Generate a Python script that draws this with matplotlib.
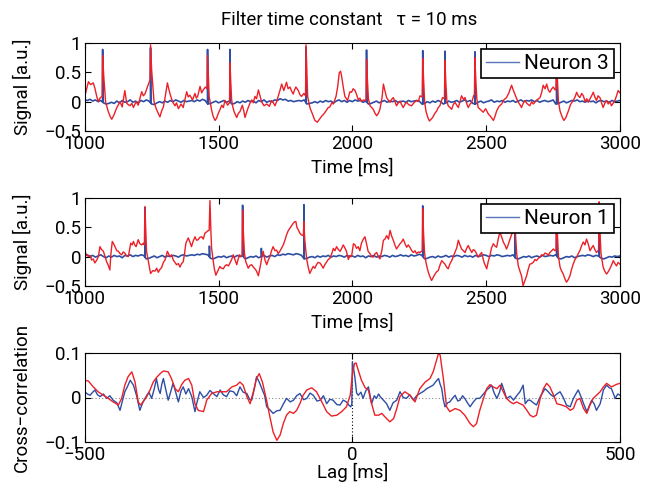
import numpy as np
import matplotlib
matplotlib.use("Agg")
import matplotlib.pyplot as plt
from matplotlib import font_manager

# ---------------- data ----------------
title_text = "Filter time constant   \u03c4 = 10 ms"
legend_top = "Neuron 3"
legend_mid = "Neuron 1"

time_xticks = [1000, 1500, 2000, 2500, 3000]
sig_yticks = [-0.5, 0, 0.5, 1]
sig_yticklabels = ["\u22120.5", "0", "0.5", "1"]
lag_xticks = [-500, 0, 500]
lag_xticklabels = ["\u2212500", "0", "500"]
cc_yticks = [-0.1, 0, 0.1]
cc_yticklabels = ["\u22120.1", "0", "0.1"]

# blue baseline sampled every 10 ms from 1000 ms
blue_grid_start = 1000
blue_grid_step = 10

n3_blue_base = [
    0.03, 0.02, 0.04, 0.01, 0.03, 0.00, 0.02, -0.02, -0.04, -0.03, -0.01, -0.03, 0.01, -0.02, 0.02, -0.01, 0.00, 0.03, -0.01, 0.01,
    -0.02, 0.02, 0.00, 0.03, 0.01, -0.04, -0.05, -0.02, 0.00, -0.02, 0.01, -0.01, 0.02, 0.00, 0.03, 0.01, -0.01, 0.02, 0.00, 0.01,
    0.02, 0.00, 0.03, 0.01, 0.04, 0.02, -0.04, -0.03, -0.01, 0.01, -0.02, 0.00, 0.02, -0.01, 0.01, -0.04, -0.03, 0.00, -0.02, 0.01,
    -0.01, 0.02, 0.00, 0.01, -0.02, 0.02, 0.00, 0.03, -0.01, 0.01, 0.00, 0.03, 0.02, 0.05, 0.03, 0.04, 0.01, 0.02, 0.00, 0.01,
    0.02, 0.01, 0.03, -0.04, -0.03, -0.02, 0.00, -0.02, 0.01, -0.01, 0.02, 0.00, 0.01, -0.02, 0.01, 0.03, 0.00, 0.02, -0.01, 0.02,
    0.00, 0.03, 0.01, 0.02, -0.01, 0.01, -0.04, -0.03, -0.01, 0.01, -0.02, 0.00, 0.02, -0.01, 0.01, 0.00, 0.02, -0.01, 0.00, 0.01,
    -0.01, 0.02, 0.00, 0.01, 0.02, 0.01, -0.04, -0.03, 0.00, -0.02, 0.01, -0.01, 0.02, 0.00, -0.04, -0.02, 0.01, -0.01, 0.00, 0.02,
    -0.01, 0.01, 0.03, 0.00, 0.02, -0.03, -0.04, -0.01, 0.01, -0.02, 0.00, 0.01, 0.03, -0.01, 0.01, 0.00, 0.02, -0.01, 0.01, 0.00,
    0.02, -0.01, 0.01, 0.03, 0.00, 0.02, 0.01, 0.03, 0.00, 0.02, -0.01, 0.01, 0.02, 0.00, 0.01, 0.03, -0.04, -0.03, -0.01, 0.01,
    -0.02, 0.00, 0.02, 0.01, 0.03, 0.00, 0.01, -0.01, 0.02, 0.00, 0.01, -0.02, 0.01, 0.02, 0.00, 0.01, -0.01, 0.02, 0.00, 0.01,
    0.02,
]
n3_spike_t = [1067, 1246, 1459, 1543, 1827, 2053, 2263, 2346, 2458, 2763]
n3_spike_h = [0.89, 0.92, 0.89, 0.89, 0.93, 0.88, 0.87, 0.86, 0.85, 0.85]

n1_blue_base = [
    0.01, 0.03, 0.00, 0.02, -0.01, 0.01, 0.03, 0.00, -0.02, 0.01, -0.01, 0.02, 0.00, 0.01, -0.02, 0.02, 0.01, 0.03, 0.00, 0.02,
    0.01, 0.03, 0.02, -0.04, -0.03, -0.01, 0.01, -0.02, 0.00, 0.02, -0.01, 0.01, 0.00, 0.02, 0.01, -0.01, 0.02, 0.03, 0.01, 0.02,
    0.03, 0.02, 0.04, 0.03, 0.05, 0.04, 0.03, -0.03, -0.04, -0.02, 0.00, -0.01, 0.01, -0.02, 0.00, 0.01, -0.01, 0.02, 0.00, 0.01,
    -0.04, -0.02, 0.00, -0.01, 0.01, -0.02, 0.00, 0.02, -0.01, 0.01, 0.02, 0.00, 0.03, 0.02, 0.04, 0.03, 0.05, 0.04, 0.03, 0.05,
    0.04, 0.02, -0.04, -0.03, -0.01, 0.00, -0.02, 0.01, -0.01, 0.01, 0.00, 0.02, -0.01, 0.01, 0.00, 0.02, 0.01, -0.01, 0.02, 0.00,
    0.01, -0.01, 0.02, 0.00, 0.01, -0.02, 0.01, 0.00, 0.02, -0.01, 0.01, 0.00, 0.02, 0.01, -0.01, 0.02, 0.00, 0.01, 0.03, 0.01,
    0.02, 0.00, 0.03, 0.01, 0.02, 0.04, 0.02, -0.04, -0.03, -0.01, 0.00, -0.02, 0.01, -0.01, 0.00, 0.02, -0.01, 0.01, 0.00, 0.02,
    0.01, -0.01, 0.02, 0.00, 0.01, -0.01, 0.02, 0.00, 0.01, 0.03, 0.02, 0.00, 0.02, 0.01, 0.03, 0.02, 0.00, 0.01, 0.02, 0.01,
    0.03, -0.03, -0.04, -0.02, 0.00, -0.01, 0.01, -0.02, 0.00, 0.01, -0.01, 0.02, 0.00, 0.01, 0.02, 0.01, 0.03, -0.03, -0.04, -0.02,
    0.00, -0.01, 0.01, -0.02, 0.00, 0.01, 0.02, 0.01, 0.03, 0.02, 0.00, 0.02, 0.01, -0.03, -0.04, -0.02, 0.00, -0.01, 0.01, 0.00,
    0.01,
]
n1_spike_t = [1225, 1466, 1590, 1660, 1819, 2263, 2607, 2763, 2922]
n1_spike_h = [0.84, 0.18, 0.88, 0.14, 0.89, 0.87, 0.60, 0.85, 0.90]

# red (filtered) signals as (time ms, value) pairs
n3_red = [
    (1000, 0.12), (1003, 0.14), (1014, 0.34), (1022, 0.29), (1032, 0.32), (1038, 0.23), (1045, 0.09), (1051, 0.00), (1057, 0.06), (1065, 0.09),
    (1067, 0.79), (1071, 0.45), (1075, 0.20), (1078, 0.00), (1088, -0.17), (1095, -0.25), (1101, -0.30), (1109, -0.23), (1119, -0.11), (1132, 0.00),
    (1140, -0.09), (1150, 0.19), (1157, -0.03), (1163, -0.05), (1169, -0.07), (1176, -0.03), (1182, -0.10), (1192, 0.00), (1200, -0.06), (1206, 0.05),
    (1213, 0.17), (1219, 0.10), (1225, 0.13), (1235, 0.26), (1244, 0.37),
    (1246, 0.97), (1250, 0.55), (1254, 0.30), (1259, 0.00), (1267, -0.12), (1275, -0.20), (1281, -0.26), (1288, -0.15), (1294, -0.09), (1301, 0.09),
    (1309, 0.32), (1314, 0.22), (1319, 0.13), (1328, 0.00), (1337, -0.07), (1343, -0.02), (1350, -0.12), (1360, -0.04), (1368, -0.10), (1375, 0.05),
    (1381, 0.17), (1387, 0.08), (1393, 0.11), (1403, 0.03), (1412, 0.14), (1417, 0.06), (1422, 0.09), (1431, 0.26), (1437, 0.15), (1443, 0.20),
    (1451, 0.25), (1457, 0.22),
    (1459, 0.79), (1462, 0.45), (1465, 0.09), (1474, -0.14), (1480, -0.25), (1487, -0.32), (1493, -0.28), (1499, -0.20), (1505, -0.14), (1512, -0.06),
    (1518, -0.10), (1524, 0.02), (1534, -0.06), (1541, -0.02),
    (1543, 0.66), (1546, 0.30), (1549, 0.03), (1553, -0.08), (1558, -0.17), (1568, -0.27), (1574, -0.20), (1580, -0.17), (1589, -0.06), (1594, -0.15),
    (1599, -0.27), (1605, -0.18), (1611, -0.10), (1618, -0.02), (1624, 0.03), (1630, -0.02), (1636, 0.09), (1642, 0.05), (1649, 0.20), (1655, 0.10),
    (1661, 0.00), (1670, -0.07), (1680, -0.04), (1690, -0.08), (1698, 0.02), (1705, -0.02), (1711, -0.07), (1717, 0.00), (1723, 0.09), (1730, 0.20),
    (1736, 0.30), (1744, 0.19), (1754, 0.33), (1760, 0.22), (1767, 0.25), (1773, 0.18), (1779, 0.13), (1784, 0.20), (1789, 0.25), (1798, 0.19),
    (1804, 0.12), (1810, 0.09), (1819, 0.14), (1825, 0.10),
    (1827, 0.97), (1830, 0.50), (1833, 0.09), (1838, -0.02), (1842, -0.11), (1850, -0.20), (1860, -0.32), (1869, -0.35), (1877, -0.30), (1885, -0.25),
    (1895, -0.20), (1904, -0.14), (1910, -0.10), (1916, -0.09), (1923, -0.02), (1929, -0.04), (1939, 0.09), (1945, 0.25), (1951, 0.49), (1956, 0.52),
    (1960, 0.43), (1966, 0.25), (1972, 0.09), (1982, 0.02), (1991, 0.17), (1997, 0.16), (2003, 0.22), (2010, 0.19), (2016, 0.12), (2022, 0.03),
    (2028, 0.06), (2035, 0.00), (2041, 0.03), (2051, 0.02),
    (2053, 0.72), (2056, 0.40), (2060, 0.05), (2066, -0.07), (2078, -0.13), (2085, -0.20), (2091, -0.24), (2097, -0.20), (2103, -0.13), (2111, 0.07),
    (2116, 0.30), (2122, 0.18), (2128, 0.07), (2135, 0.02), (2141, -0.01), (2147, 0.04), (2153, 0.07), (2159, 0.00), (2165, -0.07), (2172, -0.02),
    (2178, 0.01), (2184, -0.05), (2190, -0.10), (2197, -0.04), (2203, -0.01), (2210, -0.05), (2221, -0.07), (2230, -0.02), (2240, 0.02), (2246, 0.00),
    (2253, 0.10), (2261, 0.08),
    (2263, 0.74), (2266, 0.40), (2270, 0.00), (2275, -0.16), (2282, -0.27), (2288, -0.33), (2294, -0.30), (2300, -0.27), (2308, -0.20), (2315, -0.16),
    (2321, -0.10), (2327, -0.07), (2332, 0.00), (2337, 0.07), (2344, 0.05),
    (2346, 0.70), (2349, 0.35), (2353, 0.02), (2358, -0.07), (2365, -0.10), (2371, -0.13), (2377, -0.05), (2383, -0.01), (2390, -0.06), (2396, -0.10),
    (2402, 0.00), (2408, 0.10), (2415, 0.04), (2421, 0.07), (2427, -0.03), (2433, -0.10), (2440, -0.04), (2446, -0.01), (2453, 0.10), (2456, 0.12),
    (2458, 0.75), (2461, 0.40), (2465, 0.05), (2470, -0.10), (2480, -0.14), (2489, -0.18), (2498, -0.12), (2508, -0.21), (2516, -0.25), (2527, -0.32),
    (2533, -0.25), (2539, -0.16), (2548, -0.08), (2558, -0.04), (2566, 0.03), (2576, 0.07), (2585, 0.15), (2590, 0.22), (2595, 0.28), (2601, 0.20),
    (2607, 0.13), (2614, 0.05), (2620, -0.01), (2626, -0.05), (2632, -0.10), (2638, -0.03), (2645, 0.02), (2652, -0.03), (2663, -0.07), (2670, 0.00),
    (2676, -0.04), (2682, -0.01), (2690, 0.03), (2701, 0.07), (2707, 0.15), (2713, 0.28), (2720, 0.22), (2726, 0.30), (2732, 0.20), (2738, 0.16),
    (2745, 0.22), (2751, 0.25), (2757, 0.20), (2761, 0.22),
    (2763, 0.78), (2766, 0.40), (2770, 0.00), (2776, -0.16), (2783, -0.25), (2790, -0.32), (2797, -0.28), (2807, -0.16), (2815, -0.05), (2825, 0.02),
    (2832, 0.08), (2838, 0.16), (2844, 0.10), (2850, 0.07), (2857, 0.14), (2863, 0.10), (2870, 0.00), (2876, 0.05), (2881, -0.01), (2888, 0.05),
    (2894, 0.10), (2900, 0.16), (2906, 0.08), (2912, 0.02), (2918, 0.10), (2925, 0.07), (2931, -0.02), (2937, -0.10), (2943, -0.03), (2950, 0.02),
    (2956, -0.04), (2962, 0.00), (2968, -0.07), (2975, -0.02), (2981, 0.02), (2987, 0.10), (2993, 0.19), (3000, 0.15),
]

n1_red = [
    (1000, 0.09), (1007, 0.03), (1014, 0.00), (1020, 0.02), (1026, -0.06), (1032, -0.04), (1038, -0.11), (1045, -0.06), (1051, 0.00), (1057, 0.17),
    (1063, 0.12), (1070, 0.09), (1076, 0.00), (1082, -0.09), (1088, -0.15), (1094, -0.23), (1098, 0.05), (1103, 0.26), (1108, 0.22), (1113, 0.17),
    (1120, 0.10), (1126, 0.09), (1132, 0.05), (1138, 0.03), (1144, 0.08), (1150, 0.06), (1157, 0.01), (1163, 0.00), (1172, 0.23), (1177, 0.20),
    (1182, 0.26), (1187, 0.20), (1192, 0.17), (1200, 0.29), (1206, 0.22), (1213, 0.20), (1219, 0.23), (1223, 0.20),
    (1225, 0.86), (1228, 0.45), (1231, 0.09), (1238, -0.09), (1246, -0.29), (1255, -0.24), (1263, -0.25), (1269, -0.20), (1275, -0.27), (1281, -0.22),
    (1287, -0.19), (1294, -0.10), (1300, -0.06), (1309, 0.09), (1314, 0.04), (1319, 0.00), (1325, 0.03), (1331, -0.06), (1337, -0.10), (1343, -0.14),
    (1350, -0.12), (1356, -0.18), (1362, -0.12), (1368, -0.09), (1373, 0.05), (1378, 0.23), (1387, 0.32), (1393, 0.25), (1399, 0.17), (1405, 0.26),
    (1412, 0.34), (1418, 0.28), (1424, 0.29), (1430, 0.33), (1437, 0.34), (1443, 0.30), (1449, 0.40), (1455, 0.42), (1459, 0.44), (1465, 0.45),
    (1468, 0.96), (1471, 0.50), (1474, 0.15), (1478, 0.00), (1484, -0.20), (1490, -0.32), (1497, -0.25), (1505, -0.17), (1511, -0.20), (1518, -0.21),
    (1524, -0.16), (1530, -0.14), (1537, -0.16), (1543, -0.11), (1549, -0.05), (1555, 0.03), (1562, -0.06), (1568, -0.14), (1573, -0.05), (1578, 0.03),
    (1584, 0.00), (1588, 0.02),
    (1590, 0.80), (1593, 0.40), (1597, 0.05), (1602, -0.09), (1611, -0.20), (1618, -0.15), (1624, -0.14), (1630, -0.18), (1636, -0.21), (1642, -0.25),
    (1649, -0.33), (1657, -0.14), (1662, 0.00), (1667, 0.09), (1673, -0.05), (1680, -0.14), (1686, -0.06), (1692, 0.00), (1698, 0.10), (1704, 0.17),
    (1711, 0.10), (1717, 0.11), (1723, 0.05), (1729, 0.09), (1735, 0.14), (1742, 0.20), (1748, 0.28), (1754, 0.37), (1760, 0.44), (1767, 0.49),
    (1773, 0.53), (1779, 0.57), (1785, 0.60), (1789, 0.60), (1793, 0.50), (1798, 0.46), (1804, 0.40), (1810, 0.37), (1817, 0.36),
    (1819, 0.60), (1822, 0.30), (1829, -0.03), (1835, -0.18), (1841, -0.29), (1848, -0.22), (1854, -0.17), (1860, -0.20), (1866, -0.14), (1872, -0.10),
    (1879, -0.11), (1885, -0.15), (1891, -0.20), (1897, -0.14), (1904, -0.09), (1910, -0.05), (1916, -0.03), (1923, 0.05), (1929, 0.14), (1935, 0.10),
    (1941, 0.17), (1948, 0.12), (1954, 0.09), (1960, 0.14), (1966, 0.20), (1972, 0.15), (1978, 0.09), (1985, -0.05), (1991, 0.02), (1997, 0.00),
    (2004, 0.22), (2010, 0.20), (2016, 0.14), (2022, 0.17), (2028, 0.10), (2034, 0.23), (2041, 0.30), (2047, 0.34), (2053, 0.22), (2059, 0.09),
    (2066, 0.05), (2072, 0.00), (2078, -0.01), (2085, 0.05), (2091, 0.07), (2097, 0.00), (2103, -0.04), (2110, 0.10), (2116, 0.28), (2122, 0.30),
    (2128, 0.36), (2135, 0.30), (2141, 0.45), (2147, 0.35), (2153, 0.28), (2159, 0.20), (2165, 0.13), (2172, 0.18), (2178, 0.22), (2184, 0.25),
    (2190, 0.30), (2197, 0.22), (2203, 0.16), (2209, 0.20), (2215, 0.16), (2222, 0.10), (2228, 0.07), (2234, 0.10), (2240, 0.05), (2247, 0.08),
    (2253, 0.07), (2261, 0.10),
    (2263, 0.82), (2266, 0.40), (2270, 0.05), (2275, -0.10), (2280, -0.20), (2284, -0.27), (2290, -0.35), (2296, -0.41), (2303, -0.35), (2309, -0.30),
    (2315, -0.26), (2321, -0.24), (2327, -0.15), (2334, -0.07), (2340, -0.10), (2346, -0.13), (2352, -0.18), (2358, -0.21), (2365, -0.12), (2371, -0.07),
    (2377, 0.00), (2383, 0.07), (2390, 0.15), (2396, 0.28), (2402, 0.20), (2408, 0.13), (2415, 0.10), (2421, 0.07), (2427, 0.14), (2433, 0.19),
    (2440, 0.12), (2446, 0.07), (2452, 0.12), (2458, 0.10), (2464, 0.05), (2470, -0.01), (2476, 0.03), (2483, 0.07), (2492, -0.10), (2502, -0.21),
    (2508, -0.08), (2514, 0.02), (2520, 0.15), (2527, 0.22), (2533, 0.18), (2539, 0.16), (2545, 0.30), (2551, 0.42), (2557, 0.35), (2564, 0.25),
    (2570, 0.20), (2576, 0.13), (2582, 0.20), (2589, 0.30), (2595, 0.38), (2599, 0.42), (2605, 0.40),
    (2607, 0.72), (2610, 0.35), (2614, 0.05), (2620, -0.16), (2626, -0.25), (2632, -0.33), (2638, -0.50), (2644, -0.42), (2651, -0.33), (2657, -0.22),
    (2663, -0.13), (2670, -0.12), (2676, -0.10), (2682, -0.05), (2688, -0.07), (2695, -0.03), (2701, -0.01), (2707, 0.03), (2713, 0.02), (2720, 0.06),
    (2726, 0.05), (2732, 0.02), (2738, 0.07), (2745, 0.10), (2751, 0.13), (2757, 0.10), (2761, 0.12),
    (2763, 0.85), (2766, 0.40), (2770, 0.00), (2776, -0.18), (2782, -0.25), (2788, -0.30), (2794, -0.38), (2800, -0.44), (2806, -0.40), (2813, -0.33),
    (2819, -0.22), (2825, -0.13), (2832, -0.05), (2838, -0.01), (2844, 0.05), (2850, 0.10), (2856, 0.18), (2863, 0.25), (2869, 0.20), (2875, 0.30),
    (2881, 0.22), (2888, 0.10), (2894, 0.15), (2900, 0.19), (2906, 0.12), (2912, 0.07), (2918, 0.10), (2920, 0.12),
    (2922, 0.94), (2925, 0.45), (2929, 0.05), (2937, -0.18), (2943, -0.25), (2950, -0.30), (2956, -0.26), (2962, -0.21), (2968, -0.15), (2975, -0.07),
    (2981, -0.12), (2987, -0.16), (2993, -0.10), (3000, -0.13),
]

# cross-correlation (lag ms, value) pairs
cc_blue = [
    (-500, 0.013), (-495, 0.008), (-490, 0.005), (-485, 0.012), (-481, 0.017), (-476, 0.006), (-471, 0.002), (-465, 0.008), (-459, -0.002), (-453, 0.004),
    (-447, -0.006), (-440, -0.012), (-434, -0.029), (-429, -0.005), (-425, 0.013), (-420, 0.025), (-415, 0.039), (-409, 0.028), (-403, 0.004), (-397, -0.029),
    (-391, -0.010), (-384, 0.005), (-380, 0.012), (-375, -0.002), (-370, 0.020), (-366, 0.043), (-362, 0.018), (-359, 0.009), (-356, 0.030), (-353, 0.043),
    (-348, 0.015), (-344, -0.006), (-340, 0.010), (-335, 0.032), (-330, 0.012), (-325, -0.010), (-320, 0.015), (-316, 0.024), (-311, 0.008), (-306, 0.020),
    (-300, 0.002), (-294, -0.032), (-290, -0.010), (-285, 0.013), (-278, 0.000), (-272, 0.005), (-266, 0.016), (-260, 0.009), (-253, 0.002), (-247, 0.017),
    (-241, 0.006), (-235, 0.002), (-229, 0.015), (-222, 0.013), (-216, 0.004), (-210, 0.024), (-204, 0.012), (-197, 0.009), (-192, -0.004), (-188, -0.006),
    (-183, 0.020), (-179, 0.047), (-174, 0.035), (-169, 0.020), (-164, 0.005), (-160, -0.021), (-154, -0.028), (-148, -0.036), (-141, -0.030), (-135, -0.029),
    (-129, -0.015), (-123, -0.002), (-116, -0.010), (-110, -0.006), (-104, 0.004), (-98, 0.009), (-91, -0.005), (-85, -0.002), (-79, 0.010), (-73, 0.005),
    (-66, -0.008), (-60, -0.006), (-54, 0.004), (-48, -0.014), (-42, -0.004), (-36, -0.006), (-29, -0.016), (-23, -0.017), (-17, -0.006), (-11, -0.010),
    (-6, -0.018), (-3, -0.021), (-1, -0.015),
    (0, 0.080), (3, 0.060), (5, 0.043), (8, 0.010), (11, 0.005), (16, 0.012), (20, -0.002), (25, 0.015), (30, 0.024), (33, 0.005),
    (36, -0.014), (41, 0.004), (45, -0.002), (49, 0.008), (52, 0.002), (58, -0.006), (64, -0.014), (70, -0.029), (76, -0.012), (83, -0.006),
    (89, 0.013), (95, 0.000), (101, -0.002), (107, 0.006), (114, -0.006), (120, 0.004), (126, 0.009), (133, 0.014), (139, 0.020), (145, 0.024),
    (151, 0.028), (156, 0.036), (161, 0.043), (164, 0.030), (167, 0.020), (170, -0.005), (173, -0.021), (178, -0.012), (182, -0.010), (187, -0.002),
    (192, 0.005), (197, -0.008), (201, -0.006), (206, 0.004), (210, -0.002), (215, -0.012), (220, -0.021), (226, -0.010), (232, -0.002), (238, -0.002),
    (245, 0.008), (251, 0.017), (256, 0.022), (260, 0.028), (265, 0.010), (270, -0.002), (275, 0.012), (279, 0.032), (284, 0.014), (288, -0.002),
    (295, 0.003), (301, -0.006), (307, 0.004), (313, 0.013), (316, 0.020), (319, 0.028), (323, -0.014), (328, -0.006), (332, -0.006), (338, -0.012),
    (344, -0.017), (351, 0.002), (356, 0.012), (360, 0.020), (366, 0.013), (371, 0.006), (376, 0.002), (382, 0.008), (388, 0.013), (394, 0.000),
    (400, -0.017), (407, -0.021), (413, -0.002), (418, 0.009), (422, 0.017), (427, 0.002), (432, -0.014), (438, -0.032), (443, -0.018), (447, -0.006),
    (452, -0.015), (456, -0.029), (463, -0.014), (469, 0.017), (475, 0.028), (480, 0.022), (484, 0.020), (491, -0.002), (496, 0.008), (500, 0.005),
]

cc_red = [
    (-500, 0.039), (-493, 0.037), (-484, 0.024), (-475, 0.013), (-465, 0.005), (-456, -0.002), (-447, -0.010), (-437, -0.017), (-431, -0.002), (-425, 0.028),
    (-419, 0.047), (-412, 0.058), (-406, 0.035), (-400, -0.010), (-396, -0.017), (-391, -0.010), (-384, 0.002), (-378, 0.017), (-372, 0.035), (-366, 0.045),
    (-359, 0.054), (-353, 0.060), (-344, 0.058), (-338, 0.043), (-331, 0.020), (-325, 0.013), (-319, 0.029), (-313, 0.039), (-306, 0.043), (-300, 0.028),
    (-294, -0.014), (-288, -0.029), (-278, -0.032), (-272, -0.006), (-263, 0.009), (-253, 0.013), (-244, 0.013), (-235, 0.013), (-225, 0.024), (-216, 0.028),
    (-210, 0.035), (-204, 0.028), (-197, 0.002), (-191, -0.014), (-185, 0.013), (-179, 0.043), (-174, 0.054), (-168, 0.035), (-161, -0.002), (-154, -0.044),
    (-148, -0.078), (-141, -0.097), (-135, -0.085), (-129, -0.059), (-123, -0.040), (-117, -0.032), (-110, -0.036), (-104, -0.029), (-98, -0.014), (-92, 0.005),
    (-85, 0.017), (-76, 0.022), (-67, 0.013), (-57, -0.010), (-48, -0.032), (-39, -0.042), (-29, -0.040), (-20, -0.032), (-11, -0.021), (-4, 0.005),
    (0, 0.051), (4, 0.077), (7, 0.078),
    (11, 0.062), (17, 0.039), (24, 0.022), (30, 0.017), (36, -0.014), (42, -0.040), (49, -0.040), (55, -0.036), (61, -0.044), (70, -0.055),
    (77, -0.048), (83, -0.025), (89, 0.002), (98, 0.013), (108, 0.005), (117, -0.010), (126, 0.020), (136, 0.035), (145, 0.043), (151, 0.058),
    (158, 0.088), (161, 0.100), (164, 0.096), (170, 0.043), (176, -0.021), (182, -0.032), (192, -0.025), (201, -0.029), (210, -0.040), (220, -0.059),
    (226, -0.066), (232, -0.059), (238, -0.029), (245, -0.002), (251, 0.020), (257, 0.029), (263, 0.024), (270, 0.020), (276, 0.028), (282, 0.013),
    (288, -0.002), (295, -0.010), (301, -0.014), (307, -0.010), (313, -0.014), (319, -0.017), (326, -0.029), (332, -0.040), (338, -0.044), (344, -0.040),
    (351, -0.002), (357, 0.020), (363, 0.032), (369, 0.024), (376, 0.005), (382, -0.014), (391, -0.017), (400, -0.021), (407, -0.029), (413, -0.025),
    (419, -0.006), (425, -0.002), (432, -0.025), (438, -0.036), (444, -0.017), (450, -0.002), (456, 0.005), (463, 0.013), (469, 0.024), (475, 0.032),
    (484, 0.024), (494, 0.030), (500, 0.032),
]

# ---------------- style ----------------
RED = "#ec2027"
BLUE = "#2e4ea4"
installed = {f.name for f in font_manager.fontManager.ttflist}
fam = [f for f in ["Roboto", "DejaVu Sans"] if f in installed]
plt.rcParams["font.family"] = fam
plt.rcParams["axes.linewidth"] = 0.8

W, H = 655, 491
fig = plt.figure(figsize=(W / 100, H / 100), dpi=100)

def rect(l, t, r, b):
    return [l / W, 1 - b / H, (r - l) / W, (b - t) / H]

ax1 = fig.add_axes(rect(84.7, 43, 620, 131))
ax2 = fig.add_axes(rect(84.7, 198.3, 620, 285.7))
ax3 = fig.add_axes(rect(84.7, 353.3, 620, 441.7))

def blue_line(base, spike_t, spike_h):
    t = list(blue_grid_start + blue_grid_step * np.arange(len(base)))
    pts = list(zip(t, base))
    for st, sh in zip(spike_t, spike_h):
        b0 = float(np.interp(st, t, base))
        b1 = float(np.interp(st + 1.0, t, base))
        pts += [(st - 0.01, b0), (st, sh), (st + 1.0, b1)]
    pts.sort(key=lambda p: p[0])
    return [p[0] for p in pts], [p[1] for p in pts]

def split(pairs):
    return [p[0] for p in pairs], [p[1] for p in pairs]

FS = 13.5
for ax, base, st, sh, red, lab in [
    (ax1, n3_blue_base, n3_spike_t, n3_spike_h, n3_red, legend_top),
    (ax2, n1_blue_base, n1_spike_t, n1_spike_h, n1_red, legend_mid),
]:
    bt, bv = blue_line(base, st, sh)
    ax.plot(bt, bv, color=BLUE, lw=1.2, label=lab)
    rt, rv = split(red)
    ax.plot(rt, rv, color=RED, lw=1.0)
    ax.set_xlim(1000, 3000)
    ax.set_ylim(-0.5, 1)
    ax.set_xticks(time_xticks)
    ax.set_xticklabels([str(x) for x in time_xticks])
    ax.set_yticks(sig_yticks)
    ax.set_yticklabels(sig_yticklabels)
    ax.set_xlabel("Time [ms]", fontsize=FS)
    ax.set_ylabel("Signal [a.u.]", fontsize=FS)
    ax.xaxis.set_label_coords(0.5, -0.42)
    ax.yaxis.set_label_coords(-0.117, 0.5)
    leg = ax.legend(loc="upper right", bbox_to_anchor=(0.989, 0.932), borderaxespad=0,
                    fancybox=False, framealpha=1, edgecolor="black", fontsize=15,
                    handlelength=1.6, handletextpad=0.25, borderpad=0.24)
    leg.get_frame().set_linewidth(1.2)
    for h in leg.legend_handles:
        h.set_linewidth(1.0)
        h.set_color("#5a74c0")

bt, bv = split(cc_blue)
rt, rv = split(cc_red)
ax3.plot(bt, bv, color=BLUE, lw=1.0)
ax3.plot(rt, rv, color=RED, lw=1.0)
ax3.axhline(0, color="#888888", lw=0.8, ls=(0, (1, 2)), zorder=0)
ax3.axvline(0, color="black", lw=0.8, ls=(0, (1, 2)), zorder=0)
ax3.set_xlim(-500, 500)
ax3.set_ylim(-0.1, 0.1)
ax3.set_xticks(lag_xticks)
ax3.set_xticklabels(lag_xticklabels)
ax3.set_yticks(cc_yticks)
ax3.set_yticklabels(cc_yticklabels)
ax3.set_xlabel("Lag [ms]", fontsize=FS)
ax3.set_ylabel("Cross\u2212correlation", fontsize=FS)
ax3.xaxis.set_label_coords(0.5, -0.345)
ax3.yaxis.set_label_coords(-0.117, 0.5)

for ax in (ax1, ax2, ax3):
    ax.tick_params(direction="in", top=True, right=True, length=4, width=0.8,
                   labelsize=FS)
    ax.tick_params(axis="y", pad=2.5)
    ax.tick_params(axis="x", pad=3)
    ax.xaxis.label.set_va("center")
    ax.yaxis.label.set_va("center")

fig.text(349 / W, 1 - 25 / H, title_text, ha="center", va="baseline", fontsize=13.5)

fig.savefig("out.png", dpi=100)
